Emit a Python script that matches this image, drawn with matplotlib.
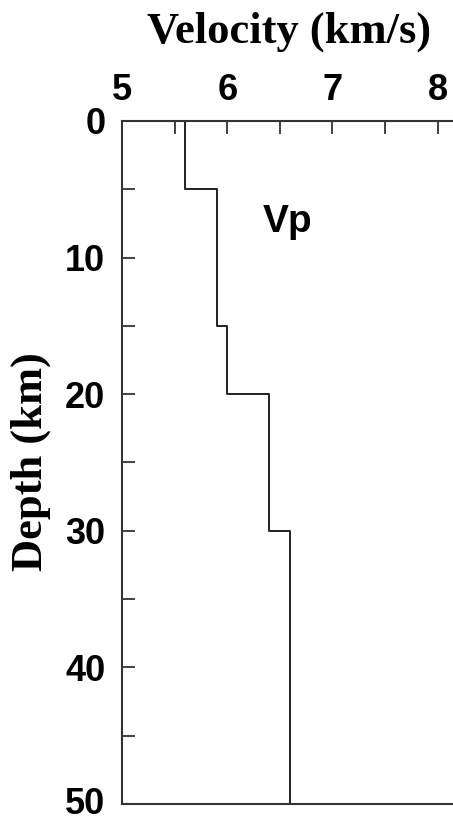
import matplotlib
matplotlib.use("Agg")
import matplotlib.pyplot as plt
import matplotlib.transforms as mtransforms
from matplotlib.ticker import MultipleLocator

# Layer model
depth_top = [0, 5, 15, 20, 30]
depth_bot = [5, 15, 20, 30, 50]
vp = [5.6, 5.9, 6.0, 6.4, 6.6]

x_ticks = [5, 6, 7, 8]
y_ticks = [0, 10, 20, 30, 40, 50]

# Build step profile
xs, ys = [], []
for v, t, b in zip(vp, depth_top, depth_bot):
    xs += [v, v]
    ys += [t, b]

W, H = 453, 822
fig = plt.figure(figsize=(W / 100, H / 100), dpi=100)
ax = fig.add_axes([122 / W, 18 / H, (W - 122) / W, 683 / H])

ax.plot(xs, ys, color="#222222", lw=1.4)

ax.set_xlim(5, 5 + (W - 122) / 105.2)
ax.set_ylim(50, 0)

ax.xaxis.tick_top()
ax.set_xticks(x_ticks)
ax.xaxis.set_minor_locator(MultipleLocator(0.5))
ax.set_yticks(y_ticks)
ax.yaxis.set_minor_locator(MultipleLocator(5))

lab_font = dict(family="Liberation Sans", weight="bold", size=26)
ax.set_xticklabels([str(t) for t in x_ticks], **lab_font)
ax.set_yticklabels([str(t) for t in y_ticks], **lab_font)

ax.tick_params(axis="both", which="both", direction="in", color="#333333", width=1.3,
               length=9.5)
ax.tick_params(axis="y", which="major", pad=12)
ax.tick_params(axis="x", which="major", pad=9)

ax.spines["right"].set_visible(False)
for s in ["left", "top", "bottom"]:
    ax.spines[s].set_linewidth(1.5)
    ax.spines[s].set_color("#333333")

# Axis titles placed in figure pixel coordinates
fig.text(289 / W, 1 - 43 / H, "Velocity (km/s)", family="Liberation Serif", weight="bold",
         size=32, ha="center", va="baseline")
fig.text(31 / W, 1 - 462 / H, "Depth (km)", family="Liberation Serif", weight="bold",
         size=32, ha="center", va="center", rotation=90)

ax.text(5 + (288 - 122) / 105.2, (232 - 121) / 13.66, "Vp", family="Liberation Sans",
        weight="bold", size=28, ha="center", va="baseline")

# Nudge the bottom depth label up slightly so it stays inside the figure
last_label = ax.yaxis.get_major_ticks()[-1].label1
last_label.set_transform(last_label.get_transform()
                         + mtransforms.ScaledTranslation(0, 4 / 100, fig.dpi_scale_trans))

fig.savefig("out.png", dpi=100)
